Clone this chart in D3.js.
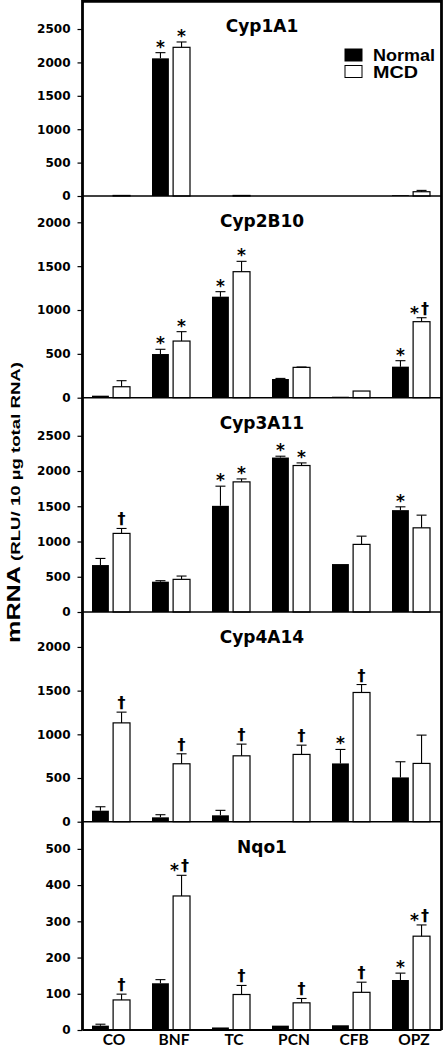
<!DOCTYPE html>
<html><head><meta charset="utf-8">
<script src="https://cdn.jsdelivr.net/npm/d3@7"></script>
<style>body{margin:0;background:#fff}svg{display:block}</style>
</head><body>
<svg id="c" width="444" height="1050"></svg>
<script>
// ---- data ----
const categories = ["CO","BNF","TC","PCN","CFB","OPZ"];
const series = ["Normal","MCD"];
const genes = ["Cyp1A1","Cyp2B10","Cyp3A11","Cyp4A14","Nqo1"];
const yMax = [2915, 2300, 3040, 2400, 575];
const yTicks = [
  [0,500,1000,1500,2000,2500],
  [0,500,1000,1500,2000],
  [0,500,1000,1500,2000,2500],
  [0,500,1000,1500,2000],
  [0,100,200,300,400,500]
];
const normalValues = [
  [0, 2061, 0, 0, 0, 12],
  [23, 498, 1152, 213, 11, 354],
  [666, 430, 1506, 2191, 680, 1445],
  [126, 50, 73, 3, 667, 507],
  [12, 129, 7, 12, 13, 138]
];
const normalErr = [
  [0, 85, 0, 0, 0, 0],
  [0, 54, 57, 7, 0, 68],
  [94, 14, 279, 19, 0, 47],
  [45, 30, 57, 0, 160, 179],
  [4, 10, 0, 0, 0, 19]
];
const mcdValues = [
  [8, 2226, 8, 0, 0, 64],
  [125, 646, 1437, 346, 76, 867],
  [1115, 463, 1846, 2078, 959, 1194],
  [1131, 663, 754, 770, 1479, 667],
  [83, 370, 98, 75, 104, 259]
];
const mcdErr = [
  [0, 80, 0, 0, 0, 20],
  [69, 107, 118, 4, 0, 45],
  [70, 47, 42, 37, 117, 180],
  [123, 114, 134, 106, 91, 324],
  [16, 57, 25, 12, 28, 31]
];
const normalMarks = [
  ["", "*", "", "", "", ""],
  ["", "*", "*", "", "", "*"],
  ["", "", "*", "*", "", "*"],
  ["", "", "", "", "*", ""],
  ["", "", "", "", "", "*"]
];
const mcdMarks = [
  ["", "*", "", "", "", ""],
  ["", "*", "*", "", "", "*†"],
  ["†", "", "*", "*", "", ""],
  ["†", "†", "†", "†", "†", ""],
  ["†", "*†", "†", "†", "†", "*†"]
];
const yTitleMain = "mRNA";
const yTitleSub = " (RLU/ 10 µg total RNA)";

// ---- layout ----
const svg = d3.select("#c");
const bounds = [1.3, 196, 397.7, 612, 821.7, 1030];
const left = 82.5, right = 441.5;
const x = d3.scaleBand().domain(categories).range([81, 441]);
const xs = d3.scaleBand().domain(series).range([-19, 19]).paddingInner(0.2);

genes.forEach((g, i) => {
  const y = d3.scaleLinear().domain([0, yMax[i]]).range([bounds[i+1], bounds[i]]);
  const p = svg.append("g");
  const ax = p.append("g").attr("transform", `translate(${left},0)`)
    .call(d3.axisLeft(y).tickValues(yTicks[i]).tickSize(5).tickPadding(7).tickFormat(d3.format("d")));
  ax.select(".domain").remove();
  ax.selectAll(".tick line").attr("stroke", "#000").attr("stroke-width", 1.2);
  ax.selectAll(".tick text").attr("font-family", "DejaVu Sans").attr("font-weight", "bold")
    .attr("font-size", 12).attr("fill", "#000");

  const rows = categories.map((c, j) => ([
    {c, s: "Normal", v: normalValues[i][j], e: normalErr[i][j], m: normalMarks[i][j]},
    {c, s: "MCD", v: mcdValues[i][j], e: mcdErr[i][j], m: mcdMarks[i][j]}
  ])).flat();

  p.selectAll("rect.bar").data(rows.filter(d => d.v > 0)).join("rect")
    .attr("class", "bar")
    .attr("x", d => x(d.c) + x.bandwidth()/2 + xs(d.s))
    .attr("width", xs.bandwidth())
    .attr("y", d => y(d.v))
    .attr("height", d => y(0) - y(d.v))
    .attr("fill", d => d.s === "Normal" ? "#000" : "#fff")
    .attr("stroke", "#000").attr("stroke-width", d => d.s === "Normal" ? 0 : 1.2);

  const eb = rows.filter(d => d.e > 0);
  const cx = d => x(d.c) + x.bandwidth()/2 + xs(d.s) + xs.bandwidth()/2;
  p.selectAll("line.ev").data(eb).join("line").attr("class","ev")
    .attr("x1", cx).attr("x2", cx).attr("y1", d => y(d.v)).attr("y2", d => y(d.v + d.e))
    .attr("stroke", "#000").attr("stroke-width", 1.1);
  p.selectAll("line.ec").data(eb).join("line").attr("class","ec")
    .attr("x1", d => cx(d) - 5).attr("x2", d => cx(d) + 5)
    .attr("y1", d => y(d.v + d.e)).attr("y2", d => y(d.v + d.e))
    .attr("stroke", "#000").attr("stroke-width", 1.1);

  rows.filter(d => d.m).forEach(d => {
    const top = y(d.v + d.e);
    const c0 = cx(d);
    const hasStar = d.m.includes("*"), hasDag = d.m.includes("†");
    if (hasStar) {
      p.append("text").text("*")
        .attr("x", hasDag ? c0 - 7 : c0).attr("y", hasDag ? top + 1 : top)
        .attr("text-anchor", "middle").attr("font-family", "DejaVu Sans")
        .attr("font-weight", "bold").attr("font-size", 17);
    }
    if (hasDag) {
      p.append("text").text("†")
        .attr("x", hasStar ? c0 + 3.5 : c0).attr("y", top - 4)
        .attr("text-anchor", "middle").attr("font-family", "DejaVu Sans")
        .attr("font-weight", "bold").attr("font-size", 16);
    }
  });

  p.append("line").attr("x1", left).attr("x2", right).attr("y1", y(0)).attr("y2", y(0))
    .attr("stroke", "#000").attr("stroke-width", i === genes.length - 1 ? 2 : 1.6);

  p.append("text").text(g).attr("x", (left + right)/2).attr("y", bounds[i] + 31)
    .attr("text-anchor", "middle").attr("font-family", "DejaVu Sans")
    .attr("font-weight", "bold").attr("font-size", 17);
});

svg.append("path")
  .attr("d", `M${left},${bounds[5]}V${bounds[0]}H${right}V${bounds[5]}`)
  .attr("fill", "none").attr("stroke", "#000").attr("stroke-width", 2.8);

const lg = svg.append("g");
series.forEach((s, k) => {
  lg.append("rect").attr("x", 345).attr("y", 49 + k*16.5).attr("width", 17).attr("height", 12)
    .attr("fill", k === 0 ? "#000" : "#fff").attr("stroke", "#000").attr("stroke-width", 1);
  lg.append("text").text(s).attr("x", 373).attr("y", 61 + k*16.5)
    .attr("font-family", "Liberation Sans").attr("font-weight", "bold").attr("font-size", 16.5)
    .attr("textLength", k === 0 ? 62 : 45).attr("lengthAdjust", "spacingAndGlyphs");
});

svg.append("g").selectAll("text").data(categories).join("text")
  .text(d => d).attr("x", d => x(d) + x.bandwidth()/2 + 3).attr("y", 1045)
  .attr("text-anchor", "middle").attr("font-family", "Lato").attr("font-weight", "bold")
  .attr("font-size", 15.5);

const yt = svg.append("text").attr("transform", "translate(20,643) rotate(-90) scale(1.4,1)")
  .attr("font-family", "Liberation Sans").attr("font-weight", "bold");
yt.append("tspan").text(yTitleMain).attr("font-size", 18);
yt.append("tspan").text(yTitleSub).attr("font-size", 13.3);
</script>
</body></html>
